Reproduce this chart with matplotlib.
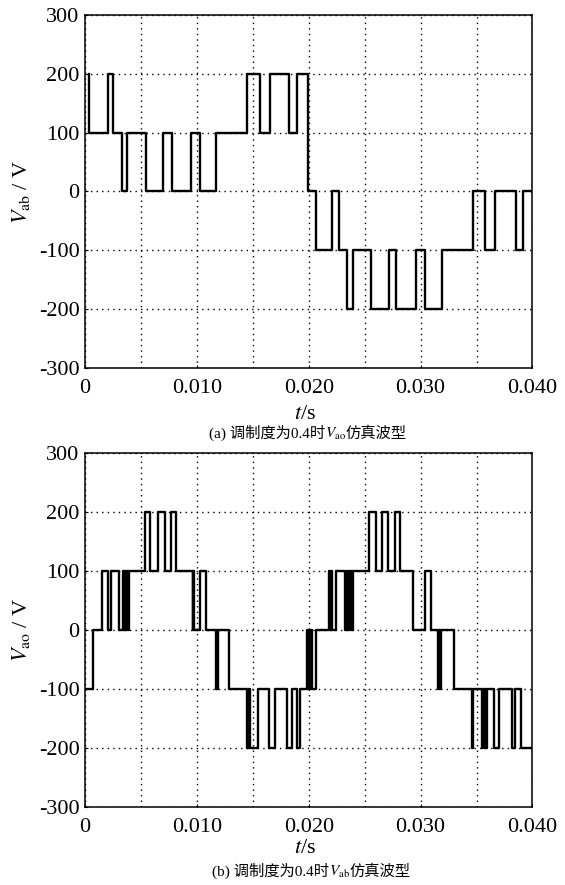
import numpy as np
import matplotlib
matplotlib.use('Agg')
import matplotlib.pyplot as plt

plt.rcParams['font.family'] = ['Liberation Serif', 'Noto Sans CJK SC']
plt.rcParams['mathtext.fontset'] = 'stix'
plt.rcParams['axes.unicode_minus'] = False

# --- données (temps en ms, niveau en V) ---
# (a) forme d'onde V_ab
t_a = [0.387, 0.387, 2.085, 2.532, 3.277, 3.724, 5.451, 6.941, 7.745, 9.473,
       10.277, 11.707, 14.447, 15.639, 16.533, 18.260, 18.975, 19.958,
       20.613, 22.102, 22.698, 23.384, 23.920, 25.529, 27.197, 27.793,
       29.580, 30.384, 31.874, 34.645, 35.746, 36.640, 38.517, 39.113]
v_a = [200, 100, 200, 100, 0, 100, 0, 100, 0, 100,
       0, 100, 200, 100, 200, 100, 200, 0,
       -100, 0, -100, -200, -100, -200, -100, -200,
       -100, -200, -100, 0, -100, 0, -100, 0]
t_a_fin = 39.976

# (b) forme d'onde V_ao
t_b = [0.0, 0.69, 1.55, 2.03, 2.32, 3.07, 3.37, 3.50, 3.58, 3.68, 3.76, 3.86, 3.94,
       5.36, 5.81, 6.50, 7.15, 7.69, 8.10, 9.62, 9.66, 9.72,
       10.28, 10.81, 11.72, 11.77, 11.82, 11.88, 12.90,
       14.45, 14.53, 14.61, 14.69, 14.77, 15.49, 16.47, 16.98, 18.08, 18.47,
       18.92, 19.21, 19.87, 19.95, 20.03, 20.11, 20.18, 20.26, 20.64,
       21.83, 21.90, 21.97, 22.05, 22.43, 23.24, 23.39, 23.48, 23.57, 23.66,
       23.75, 23.84, 23.92, 25.41, 26.00, 26.51, 27.11, 27.70, 28.15,
       29.34, 30.38, 30.92, 31.57, 31.65, 31.73, 31.81, 33.00,
       34.56, 34.70, 35.50, 35.58, 35.66, 35.74, 35.82, 35.90, 36.58, 37.00,
       38.19, 38.43, 39.02]
v_b = [-100, 0, 100, 0, 100, 0, 100, 0, 100, 0, 100, 0, 100,
       200, 100, 200, 100, 200, 100, 0, 100, 0,
       100, 0, -100, 0, -100, 0, -100,
       -200, -100, -200, -100, -200, -100, -200, -100, -200, -100,
       -200, -100, 0, -100, 0, -100, 0, -100, 0,
       100, 0, 100, 0, 100, 0, 100, 0, 100, 0,
       100, 0, 100, 200, 100, 200, 100, 200, 100,
       0, 100, 0, -100, 0, -100, 0, -100,
       -200, -100, -200, -100, -200, -100, -200, -100, -200, -100,
       -200, -100, -200]
t_b_fin = 39.95

xticks = [0, 0.010, 0.020, 0.030, 0.040]
xtick_labels = ['0', '0.010', '0.020', '0.030', '0.040']
yticks = [-300, -200, -100, 0, 100, 200, 300]


def marches(t, v, t_fin):
    x = np.append(np.array(t), t_fin) / 1000.0
    y = np.append(np.array(v), v[-1])
    return x, y


def prepare_axe(ax, ylab):
    ax.set_xlim(0, 0.040)
    ax.set_ylim(-300, 300)
    ax.set_xticks(xticks)
    ax.set_xticklabels(xtick_labels)
    ax.set_xticks(np.arange(0.005, 0.040, 0.010), minor=True)
    ax.set_yticks(yticks)
    ax.set_yticklabels([str(v) for v in yticks])
    ax.tick_params(direction='in', length=2.5, width=0.8, labelsize=16, pad=4)
    ax.tick_params(axis='x', pad=8)
    ax.tick_params(which='minor', length=0)
    ax.grid(True, which='both', color='black', linestyle=(0, (1, 3)), linewidth=1.0)
    for s in ax.spines.values():
        s.set_linewidth(1.1)
    ax.text(-0.143, 0.5, ylab, transform=ax.transAxes, rotation=90,
            ha='center', va='center', fontsize=16)


fig = plt.figure(figsize=(5.65, 8.85), dpi=100)

ax1 = fig.add_axes([0.1504, 0.5842, 0.792, 0.3989])
x, y = marches(t_a, v_a, t_a_fin)
ax1.plot(x, y, drawstyle='steps-post', color='black', linewidth=1.7)
prepare_axe(ax1, r'$V_{\rm ab}$ / V')

ax2 = fig.add_axes([0.1504, 0.0877, 0.792, 0.401])
x, y = marches(t_b, v_b, t_b_fin)
ax2.plot(x, y, drawstyle='steps-post', color='black', linewidth=1.7)
prepare_axe(ax2, r'$V_{\rm ao}$ / V')

fig.text(0.540, 0.532, r'$t$/s', ha='center', va='center', fontsize=16)
fig.text(0.540, 0.0407, r'$t$/s', ha='center', va='center', fontsize=16)


# légende en trois morceaux : texte chinois / V indicé / texte chinois
def legende(xc, yb, debut, indice, fin):
    morceaux = [fig.text(0, yb, debut, fontsize=11, va='baseline'),
                fig.text(0, yb, r'$V_{\rm %s}$' % indice, fontsize=11, va='baseline'),
                fig.text(0, yb, fin, fontsize=11, va='baseline')]
    fig.canvas.draw()
    r = fig.canvas.get_renderer()
    W = fig.bbox.width
    larg = [m.get_window_extent(r).width / W for m in morceaux]
    x0 = xc - sum(larg) / 2
    for m, l in zip(morceaux, larg):
        m.set_x(x0)
        x0 += l


legende(0.545, 0.505, '(a) 调制度为0.4时', 'ao', '仿真波型')
legende(0.551, 0.010, '(b) 调制度为0.4时', 'ab', '仿真波型')

fig.savefig('out.png', dpi=100)
